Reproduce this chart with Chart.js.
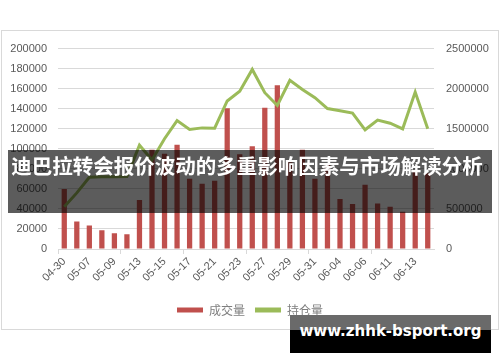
<!DOCTYPE html>
<html>
<head>
<meta charset="utf-8">
<script src="https://cdn.jsdelivr.net/npm/chart.js@4.4.1/dist/chart.umd.min.js"></script>
<style>
  html, body { margin: 0; padding: 0; background: #fff; }
  body { width: 500px; height: 362px; position: relative; overflow: hidden; }
  #frame { position: absolute; left: 1px; top: 30px; width: 496px; height: 298px; border: 1px solid #d9d9d9; }
  #wrap { position: absolute; left: 0; top: 30px; width: 500px; height: 300px; }
  #banner { position: absolute; left: 8px; top: 150px; width: 484px; height: 63px; background: rgba(0,0,0,0.64); }
  #bannerText { position: absolute; left: 0; top: 150px; width: 494px; height: 63px; line-height: 63px;
    text-align: center; white-space: nowrap; color: #fff; font: bold 20.5px "Noto Sans CJK SC", sans-serif; }
  #mark { position: absolute; left: 290px; top: 315px; width: 201px; height: 38px;
    background: linear-gradient(#6a6a6a 0, #6a6a6a 15px, #000 15px); }
  #markText { position: absolute; left: 290px; top: 322px; width: 201px; height: 30px; line-height: 30px;
    text-align: center; color: #fff; font: bold 15px "DejaVu Sans", sans-serif; white-space: nowrap; }
</style>
</head>
<body>
<div id="frame"></div>
<div id="wrap"><canvas id="chart" width="500" height="300"></canvas></div>
<div id="banner"></div>
<div id="bannerText">迪巴拉转会报价波动的多重影响因素与市场解读分析</div>
<div id="mark"></div>
<div id="markText">www.zhhk-bsport.org</div>
<script>
// trading days
const dates = ['04-30', '05-06', '05-07', '05-08', '05-09', '05-10', '05-13', '05-14', '05-15', '05-16',
               '05-17', '05-20', '05-21', '05-22', '05-23', '05-24', '05-27', '05-28', '05-29', '05-30',
               '05-31', '06-03', '06-04', '06-05', '06-06', '06-07', '06-11', '06-12', '06-13', '06-14'];

// 成交量 (left axis)
const volume = [60000, 27500, 23500, 18600, 15700, 14700, 49000, 99000, 95000, 104000,
                70000, 65000, 68000, 140500, 94500, 102500, 141000, 163500, 86600, 99000,
                70000, 84000, 50000, 44800, 64000, 45400, 42200, 37300, 77500, 75800];

// 持仓量 (right axis)
const openInterest = [527000, 700000, 895000, 900000, 900000, 905000, 1295000, 1111000, 1376000, 1602000,
                      1491000, 1511000, 1507000, 1847000, 1969000, 2240000, 1950000, 1790000, 2104000, 1989000,
                      1887000, 1752000, 1724000, 1695000, 1487000, 1609000, 1569000, 1499000, 1957000, 1499000];

const leftTicks = { min: 0, max: 200000, step: 20000 };
const rightTicks = { min: 0, max: 2500000, step: 500000 };

const tickFont = { family: '"Liberation Sans", Arial, sans-serif', size: 11 };
const tickColor = '#595959';
const gridColor = '#d9d9d9';
const plain = v => String(v);

const ctx = document.getElementById('chart').getContext('2d');
new Chart(ctx, {
    data: {
        labels: dates,
        datasets: [
            {
                type: 'line',
                label: '持仓量',
                data: openInterest,
                yAxisID: 'y1',
                borderColor: '#9bbb59',
                backgroundColor: '#9bbb59',
                borderWidth: 3,
                pointRadius: 0,
                tension: 0,
                order: 0
            },
            {
                type: 'bar',
                label: '成交量',
                data: volume,
                yAxisID: 'y',
                backgroundColor: '#c0504d',
                barPercentage: 0.42,
                categoryPercentage: 1,
                order: 1
            }
        ]
    },
    options: {
        responsive: false,
        animation: false,
        layout: { padding: { top: 15, bottom: 4, left: 0, right: 0 } },
        plugins: {
            tooltip: { enabled: false },
            legend: {
                position: 'bottom',
                reverse: true,
                labels: {
                    boxWidth: 26,
                    boxHeight: 5,
                    padding: 10,
                    color: '#7f7f7f',
                    font: { family: '"Noto Sans CJK SC", sans-serif', size: 12 },
                    generateLabels: function (chart) {
                        const items = Chart.defaults.plugins.legend.labels.generateLabels(chart);
                        return items.map(it => ({ ...it, lineWidth: 0 }));
                    }
                }
            }
        },
        scales: {
            x: {
                offset: true,
                grid: {
                    offset: true,
                    drawOnChartArea: false,
                    tickLength: 5,
                    color: c => (c.index % 5 === 0 ? gridColor : 'rgba(0,0,0,0)')
                },
                border: { color: gridColor },
                ticks: {
                    autoSkip: false,
                    minRotation: 45,
                    maxRotation: 45,
                    padding: 1,
                    color: tickColor,
                    font: tickFont,
                    callback: function (v, i) { return i % 2 === 0 ? dates[i] : ''; }
                },
                afterFit: s => { s.height = 45; }
            },
            y: {
                position: 'left',
                min: leftTicks.min,
                max: leftTicks.max,
                ticks: { stepSize: leftTicks.step, color: tickColor, font: tickFont, padding: 11, callback: plain },
                grid: { color: gridColor, drawTicks: false },
                border: { display: false },
                afterFit: s => { s.width = 58; }
            },
            y1: {
                position: 'right',
                min: rightTicks.min,
                max: rightTicks.max,
                ticks: { stepSize: rightTicks.step, color: tickColor, font: tickFont, padding: 12, callback: plain },
                grid: { drawOnChartArea: false, drawTicks: false },
                border: { display: false },
                afterFit: s => { s.width = 66; }
            }
        }
    }
});
</script>
</body>
</html>
